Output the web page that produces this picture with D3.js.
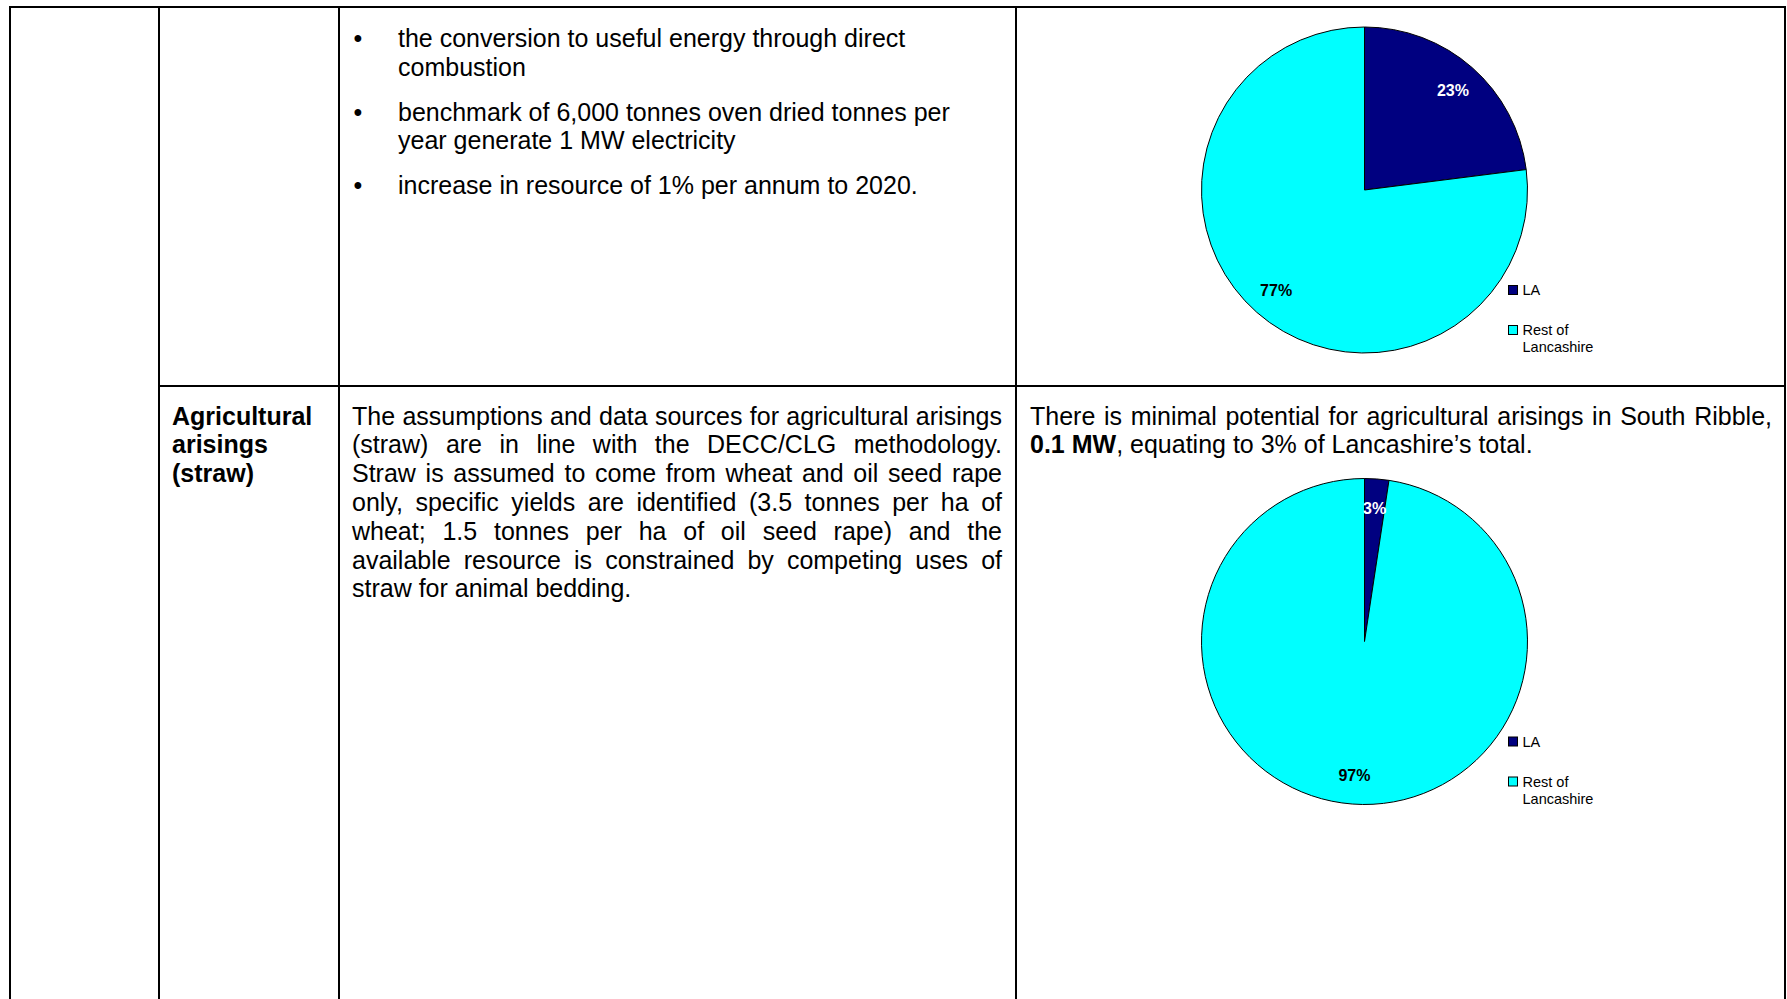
<!DOCTYPE html>
<html>
<head>
<meta charset="utf-8">
<script src="https://cdn.jsdelivr.net/npm/d3@7"></script>
<style>
  body { margin: 0; background: #fff; }
  svg { display: block; }
  text { font-family: "Liberation Sans", Arial, sans-serif; }
</style>
</head>
<body>
<div id="page"></div>
<script>
// pie data
const categories = ["LA", "Rest of Lancashire"];
const legendLines = [["LA"], ["Rest of", "Lancashire"]];
const colors = ["#000080", "#00ffff"];
const woodShares = [23, 77];
const woodLabels = ["23%", "77%"];
const strawShares = [2.4, 97.6];
const strawLabels = ["3%", "97%"];

// table text
const bullets = [
  ["the conversion to useful energy through direct", "combustion"],
  ["benchmark of 6,000 tonnes oven dried tonnes per", "year generate 1 MW electricity"],
  ["increase in resource of 1% per annum to 2020."]
];
const rowTitle = ["Agricultural", "arisings", "(straw)"];
const methodLines = [
  "The assumptions and data sources for agricultural arisings",
  "(straw) are in line with the DECC/CLG methodology.",
  "Straw is assumed to come from wheat and oil seed rape",
  "only, specific yields are identified (3.5 tonnes per ha of",
  "wheat; 1.5 tonnes per ha of oil seed rape) and the",
  "available resource is constrained by competing uses of",
  "straw for animal bedding."
];
const resultLine1 = "There is minimal potential for agricultural arisings in South Ribble,";
const resultLine2 = [{t: "0.1 MW", b: true}, {t: ", equating to 3% of Lancashire\u2019s total.", b: false}];

const W = 1787, H = 999;
const FS = 25, LH = 28.8, ROW2 = 424.5;

const svg = d3.select("#page").append("svg")
  .attr("width", W).attr("height", H);

// table rules
const hLines = [[9, 1786, 7], [159, 1786, 386]];
const vLines = [10, 159, 339, 1016, 1785];
svg.append("g").selectAll("line").data(hLines).enter().append("line")
  .attr("x1", d => d[0]).attr("x2", d => d[1])
  .attr("y1", d => d[2]).attr("y2", d => d[2])
  .attr("stroke", "#000").attr("stroke-width", 2);
svg.append("g").selectAll("line").data(vLines).enter().append("line")
  .attr("x1", d => d).attr("x2", d => d)
  .attr("y1", 6).attr("y2", H)
  .attr("stroke", "#000").attr("stroke-width", 2);

const txt = svg.append("g").attr("font-size", FS).attr("fill", "#000");

// bullet list in the top row
let y = 47;
bullets.forEach(item => {
  txt.append("text").attr("x", 358).attr("y", y).attr("text-anchor", "middle").text("\u2022");
  item.forEach(line => {
    txt.append("text").attr("x", 398).attr("y", y).text(line);
    y += 28.5;
  });
  y += 16.5;
});

// bold row heading
rowTitle.forEach((t, i) => {
  txt.append("text").attr("x", 172).attr("y", ROW2 + i * LH)
    .attr("font-weight", "bold").text(t);
});

// justified line: each word placed on its own
function measure(word, bold) {
  const t = txt.append("text").attr("font-weight", bold ? "bold" : null).text(word);
  const w = t.node().getComputedTextLength();
  t.remove();
  return w;
}
function justify(line, x0, x1, yy) {
  const words = line.split(" ");
  const widths = words.map(w => measure(w));
  const gap = (x1 - x0 - d3.sum(widths)) / (words.length - 1);
  const t = txt.append("text").attr("y", yy);
  let x = x0;
  words.forEach((w, i) => {
    t.append("tspan").attr("x", x).text(w);
    x += widths[i] + gap;
  });
}

methodLines.forEach((line, i) => {
  const yy = ROW2 + i * LH;
  if (i < methodLines.length - 1) justify(line, 352, 1002, yy);
  else txt.append("text").attr("x", 352).attr("y", yy).text(line);
});

justify(resultLine1, 1030, 1772, ROW2);
const r2 = txt.append("text").attr("x", 1030).attr("y", ROW2 + LH);
resultLine2.forEach(s => {
  r2.append("tspan").attr("font-weight", s.b ? "bold" : null).text(s.t);
});

// pies
const R = 163;
const pie = d3.pie().sort(null);
const arc = d3.arc().innerRadius(0).outerRadius(R);
const labelArc = d3.arc().innerRadius(R * 0.82).outerRadius(R * 0.82);
const color = d3.scaleOrdinal().domain(categories).range(colors);

function drawPie(cx, cy, shares, labels) {
  const g = svg.append("g").attr("transform", `translate(${cx},${cy})`);
  const arcs = pie(shares);
  g.selectAll("path").data(arcs).enter().append("path")
    .attr("d", arc)
    .attr("fill", (d, i) => color(categories[i]))
    .attr("stroke", "#000").attr("stroke-width", 1);
  g.selectAll("text.lbl").data(arcs).enter().append("text")
    .attr("class", "lbl")
    .attr("transform", d => `translate(${labelArc.centroid(d)})`)
    .attr("text-anchor", "middle").attr("dy", "0.36em")
    .attr("font-size", 16).attr("font-weight", "bold")
    .attr("fill", (d, i) => i === 0 ? "#fff" : "#000")
    .text((d, i) => labels[i]);

  // legend to the lower right
  const lg = g.append("g").attr("transform", "translate(144,105)");
  const offs = [0, 40];
  categories.forEach((c, i) => {
    lg.append("rect").attr("x", 0).attr("y", offs[i] - 9.5)
      .attr("width", 9).attr("height", 9)
      .attr("fill", color(c)).attr("stroke", "#000").attr("stroke-width", 1);
    legendLines[i].forEach((l, j) => {
      lg.append("text").attr("x", 14).attr("y", offs[i] + j * 17)
        .attr("font-size", 14.5).text(l);
    });
  });
}

drawPie(1364.5, 190, woodShares, woodLabels);
drawPie(1364.5, 641.5, strawShares, strawLabels);
</script>
</body>
</html>
